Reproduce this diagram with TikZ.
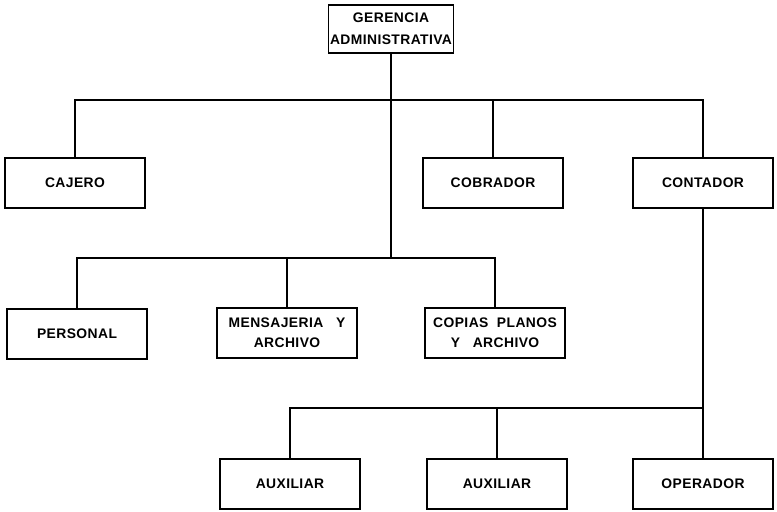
\documentclass[tikz,border=0pt]{standalone}
\usepackage{fontspec}
\setmainfont[LetterSpace=3]{Liberation Sans}
\usepackage{tikz}
\usetikzlibrary{positioning}

\begin{document}
\begin{tikzpicture}[x=0.75pt, y=-0.75pt,
			box/.style={draw, line width=1.1pt, minimum width=105pt, minimum height=37.5pt,
				inner sep=2pt, align=center, font=\fontsize{10.4}{15}\selectfont\bfseries},
			wire/.style={line width=1.6pt}]
\useasboundingbox (0,0) rectangle (777,511);

\node[box, minimum width=94pt, minimum height=36pt, inner sep=0pt,
	font=\fontsize{10.4}{16.5}\selectfont\bfseries] (ger) at (391,29) {GERENCIA\\ADMINISTRATIVA};

\node[box] (caj) at (75,183) {CAJERO};
\node[box] (cob) at (493,183) {COBRADOR};
\node[box] (con) at (703,183) {CONTADOR};

\node[box] (per) at (77,334) {PERSONAL};
\node[box] (men) at (287,333) {MENSAJERIA~~~Y\\ARCHIVO};
\node[box] (cop) at (495,333) {COPIAS~~PLANOS\\Y~~~ARCHIVO};

\node[box] (aux1) at (290,484) {AUXILIAR};
\node[box] (aux2) at (497,484) {AUXILIAR};
\node[box] (ope) at (703,484) {OPERADOR};

\coordinate (b1) at (0,100);
\coordinate (b2) at (0,258);
\coordinate (b3) at (0,408);

\draw[wire] (ger.south) -- (ger.south |- b2);
\draw[wire] (caj.north) |- (b1 -| con.north) -- (con.north);
\draw[wire] (cob.north) -- (cob.north |- b1);

\draw[wire] (per.north) |- (b2 -| cop.north) -- (cop.north);
\draw[wire] (men.north) -- (men.north |- b2);

\draw[wire] (con.south) -- (ope.north);
\draw[wire] (aux1.north) |- (b3 -| ope.north);
\draw[wire] (aux2.north) -- (aux2.north |- b3);

\end{tikzpicture}
\end{document}
